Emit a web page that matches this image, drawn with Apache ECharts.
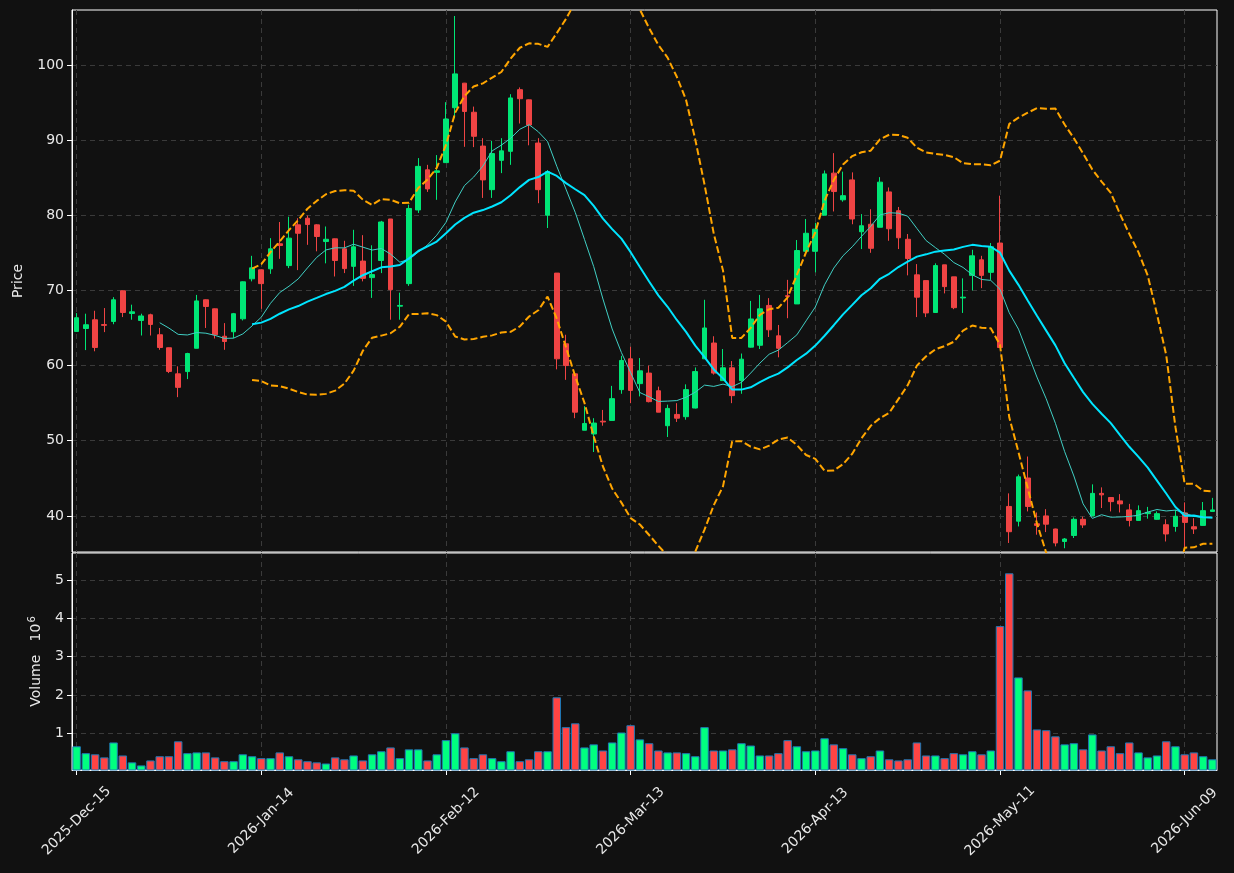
<!DOCTYPE html>
<html>
<head>
<meta charset="utf-8">
<script src="https://cdn.jsdelivr.net/npm/echarts@6/dist/echarts.min.js"></script>
<style>
  html, body { margin: 0; background: #111111; }
  #chart { width: 1234px; height: 873px; }
</style>
</head>
<body>
<div id="chart"></div>
<script>
const dates = [
  '2025-Dec-15','2025-Dec-16','2025-Dec-17','2025-Dec-18','2025-Dec-19','2025-Dec-22','2025-Dec-23','2025-Dec-24','2025-Dec-26','2025-Dec-29','2025-Dec-30','2025-Dec-31',
  '2026-Jan-02','2026-Jan-05','2026-Jan-06','2026-Jan-07','2026-Jan-08','2026-Jan-09','2026-Jan-12','2026-Jan-13','2026-Jan-14','2026-Jan-15','2026-Jan-16','2026-Jan-20','2026-Jan-21','2026-Jan-22','2026-Jan-23','2026-Jan-26','2026-Jan-27','2026-Jan-28','2026-Jan-29','2026-Jan-30',
  '2026-Feb-02','2026-Feb-03','2026-Feb-04','2026-Feb-05','2026-Feb-06','2026-Feb-09','2026-Feb-10','2026-Feb-11','2026-Feb-12','2026-Feb-13','2026-Feb-17','2026-Feb-18','2026-Feb-19','2026-Feb-20','2026-Feb-23','2026-Feb-24','2026-Feb-25','2026-Feb-26','2026-Feb-27',
  '2026-Mar-02','2026-Mar-03','2026-Mar-04','2026-Mar-05','2026-Mar-06','2026-Mar-09','2026-Mar-10','2026-Mar-11','2026-Mar-12','2026-Mar-13','2026-Mar-16','2026-Mar-17','2026-Mar-18','2026-Mar-19','2026-Mar-20','2026-Mar-23','2026-Mar-24','2026-Mar-25','2026-Mar-26','2026-Mar-27','2026-Mar-30','2026-Mar-31',
  '2026-Apr-01','2026-Apr-02','2026-Apr-06','2026-Apr-07','2026-Apr-08','2026-Apr-09','2026-Apr-10','2026-Apr-13','2026-Apr-14','2026-Apr-15','2026-Apr-16','2026-Apr-17','2026-Apr-20','2026-Apr-21','2026-Apr-22','2026-Apr-23','2026-Apr-24','2026-Apr-27','2026-Apr-28','2026-Apr-29','2026-Apr-30',
  '2026-May-01','2026-May-04','2026-May-05','2026-May-06','2026-May-07','2026-May-08','2026-May-11','2026-May-12','2026-May-13','2026-May-14','2026-May-15','2026-May-18','2026-May-19','2026-May-20','2026-May-21','2026-May-22','2026-May-26','2026-May-27','2026-May-28','2026-May-29',
  '2026-Jun-01','2026-Jun-02','2026-Jun-03','2026-Jun-04','2026-Jun-05','2026-Jun-08','2026-Jun-09','2026-Jun-10','2026-Jun-11','2026-Jun-12'
];

const open = [
  64.54, 64.93, 66.09, 65.45, 65.87, 69.95, 66.93, 66.0, 66.76, 64.1,
  62.37, 58.9, 59.2, 62.3, 68.75, 67.55, 63.9, 64.5, 66.22, 71.54,
  72.74, 72.87, 76.2, 73.3, 78.72, 79.6, 78.72, 76.5, 76.86, 75.53,
  73.2, 73.9, 71.7, 73.98, 79.5, 67.9, 70.9, 80.7, 86.04, 85.7,
  87.0, 94.3, 97.57, 93.7, 89.2, 83.4, 87.3, 88.5, 96.7, 95.35,
  89.6, 80.0, 72.3, 62.9, 58.9, 51.4, 50.9, 52.6, 52.7, 56.8,
  60.9, 57.6, 59.0, 56.65, 52.0, 53.5, 53.2, 54.35, 60.9, 63.0,
  58.0, 59.7, 58.0, 62.45, 62.7, 68.0, 63.96, 69.3, 68.2, 75.2,
  75.2, 80.0, 85.6, 82.05, 84.7, 77.8, 78.8, 78.4, 83.1, 80.6,
  76.8, 72.07, 71.3, 67.06, 73.4, 71.8, 69.0, 72.0, 74.07, 72.4,
  76.3, 41.26, 39.3, 45.04, 38.96, 40.0, 38.26, 36.6, 37.4, 39.55,
  40.0, 43.0, 42.45, 42.0, 40.8, 39.4, 40.3, 39.55, 38.83, 38.6,
  40.4, 38.56, 38.74, 40.6
];
const close = [
  66.36, 65.43, 62.41, 65.35, 68.75, 67.06, 67.15, 66.6, 65.47, 62.4,
  59.22, 57.1, 61.6, 68.6, 67.86, 64.1, 63.2, 66.9, 71.14, 73.0,
  70.9, 75.53, 75.97, 76.95, 77.6, 78.76, 77.17, 76.8, 73.98, 72.9,
  75.8, 71.6, 72.1, 79.1, 70.1, 68.0, 80.9, 86.5, 83.5, 85.9,
  92.8, 98.8, 93.8, 90.5, 84.7, 88.2, 88.56, 95.6, 95.5, 92.0,
  83.4, 85.8, 60.9, 60.0, 53.8, 52.3, 52.35, 52.5, 55.6, 60.68,
  56.7, 59.3, 55.2, 53.8, 54.3, 53.0, 56.8, 59.2, 65.0, 59.0,
  59.7, 56.0, 60.85, 66.2, 67.55, 64.76, 62.3, 69.2, 75.3, 77.6,
  78.15, 85.5, 83.15, 82.6, 79.5, 78.6, 75.6, 84.4, 78.2, 77.0,
  74.24, 69.1, 67.0, 73.3, 70.5, 67.7, 69.1, 74.6, 72.0, 75.8,
  62.4, 37.9, 45.2, 41.26, 38.74, 38.9, 36.4, 36.93, 39.55, 38.8,
  43.0, 42.8, 41.9, 41.6, 39.4, 40.7, 40.47, 40.3, 37.6, 39.95,
  39.14, 38.26, 40.7, 40.8
];
const low = [
  64.5, 62.06, 61.9, 64.45, 65.5, 66.45, 66.1, 64.0, 64.0, 62.1,
  59.0, 55.8, 58.2, 62.3, 65.0, 63.6, 62.1, 63.65, 66.0, 71.2,
  67.55, 72.2, 74.2, 72.96, 72.7, 76.06, 75.2, 73.6, 71.85, 72.3,
  70.6, 71.2, 69.0, 72.3, 66.1, 66.1, 70.6, 80.3, 83.1, 82.05,
  87.0, 92.9, 89.1, 89.06, 82.3, 82.3, 85.6, 86.7, 92.2, 89.3,
  81.6, 78.3, 59.5, 58.1, 53.0, 51.4, 48.5, 52.0, 52.7, 56.25,
  55.0, 55.9, 55.1, 53.8, 50.5, 52.5, 52.8, 54.3, 60.9, 58.8,
  58.0, 55.0, 56.25, 62.4, 62.2, 63.8, 61.1, 66.3, 68.2, 75.2,
  72.4, 80.0, 80.5, 81.8, 78.8, 75.5, 75.0, 78.4, 76.6, 75.5,
  72.0, 66.45, 66.45, 67.0, 69.6, 67.5, 67.0, 70.0, 70.3, 71.4,
  62.4, 36.4, 38.6, 40.6, 37.5, 37.85, 35.95, 35.7, 37.06, 38.4,
  40.0, 41.05, 40.6, 40.46, 38.6, 39.4, 39.63, 39.5, 36.6, 37.9,
  35.5, 37.6, 38.7, 40.6
];
const high = [
  66.98, 66.9, 67.29, 67.65, 69.1, 70.0, 68.1, 66.9, 66.9, 65.0,
  62.4, 59.9, 61.7, 69.4, 68.8, 67.6, 65.65, 67.0, 71.2, 74.6,
  72.8, 76.95, 79.1, 79.8, 79.6, 79.96, 78.8, 78.5, 76.9, 76.6,
  78.06, 77.35, 76.0, 79.25, 79.5, 69.7, 81.4, 87.6, 86.7, 88.0,
  95.04, 106.5, 97.6, 94.45, 90.25, 89.9, 90.25, 96.1, 97.0, 95.4,
  90.25, 86.0, 72.3, 64.1, 58.9, 54.6, 53.0, 54.1, 57.3, 61.3,
  62.5, 61.0, 60.0, 57.2, 54.8, 55.0, 57.5, 59.75, 68.75, 63.9,
  62.2, 60.6, 61.6, 68.6, 69.4, 68.97, 65.4, 71.4, 76.7, 79.5,
  79.0, 85.95, 88.26, 85.8, 85.7, 80.15, 80.8, 85.07, 83.7, 81.1,
  77.5, 73.5, 71.3, 73.6, 73.4, 71.8, 71.6, 75.4, 74.6, 76.3,
  82.6, 43.0, 45.5, 47.9, 40.46, 40.9, 38.3, 37.06, 39.8, 39.9,
  44.2, 43.8, 42.5, 42.9, 41.6, 41.4, 41.2, 40.6, 39.55, 40.8,
  41.8, 39.7, 41.85, 42.4
];
// volume in millions
const volume = [
  0.66, 0.48, 0.45, 0.37, 0.76, 0.42, 0.24, 0.16, 0.29, 0.40,
  0.40, 0.79, 0.48, 0.50, 0.50, 0.37, 0.27, 0.27, 0.45, 0.40,
  0.35, 0.35, 0.50, 0.40, 0.32, 0.27, 0.24, 0.21, 0.37, 0.32,
  0.42, 0.29, 0.45, 0.53, 0.63, 0.35, 0.58, 0.58, 0.29, 0.45,
  0.82, 1.00, 0.63, 0.35, 0.45, 0.35, 0.27, 0.53, 0.27, 0.32,
  0.53, 0.53, 1.94, 1.16, 1.26, 0.63, 0.71, 0.55, 0.76, 1.02,
  1.21, 0.84, 0.74, 0.55, 0.50, 0.50, 0.48, 0.40, 1.16, 0.55,
  0.55, 0.58, 0.74, 0.68, 0.42, 0.42, 0.48, 0.82, 0.66, 0.53,
  0.55, 0.87, 0.71, 0.61, 0.45, 0.35, 0.40, 0.55, 0.32, 0.29,
  0.32, 0.76, 0.42, 0.42, 0.35, 0.48, 0.45, 0.53, 0.45, 0.55,
  3.80, 5.18, 2.46, 2.12, 1.10, 1.08, 0.92, 0.71, 0.74, 0.58,
  0.97, 0.55, 0.66, 0.48, 0.76, 0.50, 0.37, 0.42, 0.79, 0.66,
  0.45, 0.50, 0.40, 0.32
];
const priceTicks = [40, 50, 60, 70, 80, 90, 100];
const volumeTicks = [1, 2, 3, 4, 5];

// moving averages and bollinger bands from close
function sma(arr, n) {
  return arr.map((v, i) => {
    if (i < n - 1) return null;
    let s = 0;
    for (let k = i - n + 1; k <= i; k++) s += arr[k];
    return +(s / n).toFixed(3);
  });
}
function boll(arr, n, mult) {
  const mid = sma(arr, n);
  const up = [], dn = [];
  arr.forEach((v, i) => {
    if (mid[i] == null) { up.push(null); dn.push(null); return; }
    let s = 0;
    for (let k = i - n + 1; k <= i; k++) s += (arr[k] - mid[i]) ** 2;
    const sd = Math.sqrt(s / n);
    up.push(+(mid[i] + mult * sd).toFixed(3));
    dn.push(+(mid[i] - mult * sd).toFixed(3));
  });
  return [up, dn];
}
const ma10 = sma(close, 10);
const ma20 = sma(close, 20);
const [bbUp, bbDn] = boll(close, 20, 2);

const UP = '#00e676', DOWN = '#ef4444';
const VUP = '#00ff80', VDOWN = '#ff4444';
const textColor = '#e8e8e8';
const gridLine = { show: true, lineStyle: { color: '#3a3a3a', type: [5, 4], width: 1 } };
const every20 = (i) => i % 20 === 0;

const candles = dates.map((d, i) => [open[i], close[i], low[i], high[i]]);
const vols = volume.map((v, i) => ({
  value: v,
  itemStyle: { color: close[i] >= open[i] ? VUP : VDOWN }
}));

const chart = echarts.init(document.getElementById('chart'));
chart.setOption({
  animation: false,
  backgroundColor: '#111111',
  textStyle: { fontFamily: 'DejaVu Sans' },
  grid: [
    { left: 72, right: 17, top: 10, height: 542, show: true, borderColor: '#ffffff', borderWidth: 1 },
    { left: 72, right: 17, top: 553, height: 217, show: true, borderColor: '#ffffff', borderWidth: 1 }
  ],
  xAxis: [
    {
      type: 'category', gridIndex: 0, data: dates, boundaryGap: true,
      axisLine: { show: false }, axisTick: { show: false }, axisLabel: { show: false },
      splitLine: Object.assign({ interval: every20, alignWithLabel: true }, gridLine)
    },
    {
      type: 'category', gridIndex: 1, data: dates, boundaryGap: true,
      axisLine: { show: true, lineStyle: { color: '#ffffff' } },
      axisTick: { show: true, interval: every20, alignWithLabel: true, length: 5, lineStyle: { color: '#ffffff' } },
      axisLabel: {
        interval: every20, rotate: 45, color: textColor, fontSize: 14, margin: 51,
        align: 'center', verticalAlign: 'middle'
      },
      splitLine: Object.assign({ interval: every20, alignWithLabel: true }, gridLine)
    }
  ],
  yAxis: [
    {
      type: 'value', gridIndex: 0, min: 35.2, max: 107.3,
      name: 'Price', nameLocation: 'middle', nameGap: 47, nameRotate: 90,
      nameTextStyle: { color: textColor, fontSize: 14 },
      axisLine: { show: true, lineStyle: { color: '#ffffff' } },
      axisTick: { show: true, length: 5, customValues: priceTicks, lineStyle: { color: '#ffffff' } },
      axisLabel: { customValues: priceTicks, color: textColor, fontSize: 14, margin: 8 },
      splitLine: gridLine
    },
    {
      type: 'value', gridIndex: 1, min: 0.04, max: 5.71,
      name: 'Volume   10{s|6}', nameLocation: 'middle', nameGap: 27, nameRotate: 90,
      nameTextStyle: { color: textColor, fontSize: 14, rich: { s: { fontSize: 10, color: textColor, padding: [0, 0, 8, 1] } } },
      axisLine: { show: true, lineStyle: { color: '#ffffff' } },
      axisTick: { show: true, length: 5, customValues: volumeTicks, lineStyle: { color: '#ffffff' } },
      axisLabel: { customValues: volumeTicks, color: textColor, fontSize: 14, margin: 8 },
      splitLine: gridLine
    }
  ],
  series: [
    {
      type: 'candlestick', xAxisIndex: 0, yAxisIndex: 0, data: candles, barWidth: '56%',
      itemStyle: { color: UP, color0: DOWN, borderColor: UP, borderColor0: DOWN, borderWidth: 1 }
    },
    {
      type: 'line', xAxisIndex: 0, yAxisIndex: 0, data: ma10, showSymbol: false, z: 3,
      lineStyle: { color: '#40cfc4', width: 1 }
    },
    {
      type: 'line', xAxisIndex: 0, yAxisIndex: 0, data: ma20, showSymbol: false, z: 3,
      lineStyle: { color: '#00e5ff', width: 2 }
    },
    {
      type: 'line', xAxisIndex: 0, yAxisIndex: 0, data: bbUp, showSymbol: false, z: 3,
      lineStyle: { color: '#ffa500', width: 2, type: [7, 3] }
    },
    {
      type: 'line', xAxisIndex: 0, yAxisIndex: 0, data: bbDn, showSymbol: false, z: 3,
      lineStyle: { color: '#ffa500', width: 2, type: [7, 3] }
    },
    {
      type: 'bar', xAxisIndex: 1, yAxisIndex: 1, data: vols, barWidth: '92%',
      itemStyle: { borderColor: '#1f77b4', borderWidth: 1 }
    }
  ]
});
</script>
</body>
</html>
